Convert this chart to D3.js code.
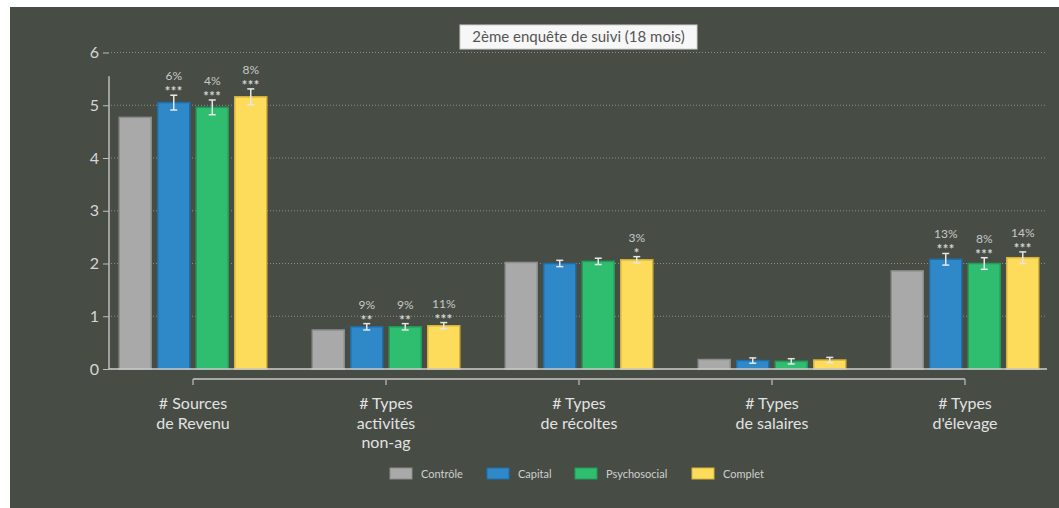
<!DOCTYPE html>
<html>
<head>
<meta charset="utf-8">
<script src="https://cdn.jsdelivr.net/npm/d3@7"></script>
<style>
  html, body { margin: 0; padding: 0; background: #ffffff; }
  svg { display: block; font-family: Lato, "Open Sans", sans-serif; }
</style>
</head>
<body>
<svg id="chart" width="1059" height="508"></svg>
<script>
// ---- data ----
const categories = [
  ["# Sources", "de Revenu"],
  ["# Types", "activités", "non-ag"],
  ["# Types", "de récoltes"],
  ["# Types", "de salaires"],
  ["# Types", "d'élevage"]
];
const seriesNames = ["Contrôle", "Capital", "Psychosocial", "Complet"];
const controle     = [4.77, 0.74, 2.02, 0.18, 1.86];
const capital      = [5.05, 0.80, 2.00, 0.16, 2.08];
const psychosocial = [4.96, 0.80, 2.04, 0.145, 2.00];
const complet      = [5.16, 0.82, 2.07, 0.17, 2.11];
const errControle     = [0, 0, 0, 0, 0];
const errCapital      = [0.14, 0.06, 0.06, 0.05, 0.11];
const errPsychosocial = [0.14, 0.06, 0.06, 0.05, 0.11];
const errComplet      = [0.15, 0.06, 0.06, 0.05, 0.11];
const pctControle     = ["", "", "", "", ""];
const pctCapital      = ["6%", "9%", "", "", "13%"];
const pctPsychosocial = ["4%", "9%", "", "", "8%"];
const pctComplet      = ["8%", "11%", "3%", "", "14%"];
const starsControle     = ["", "", "", "", ""];
const starsCapital      = ["***", "**", "", "", "***"];
const starsPsychosocial = ["***", "**", "", "", "***"];
const starsComplet      = ["***", "***", "*", "", "***"];
const yTicks = [0, 1, 2, 3, 4, 5, 6];
const title = "2ème enquête de suivi (18 mois)";

const colors = ["#a9a9a9", "#2f89c9", "#2fbd6f", "#fddc5b"];
const strokes = ["#8c8c8c", "#1f6eaa", "#239c58", "#d6b33c"];

const values = [controle, capital, psychosocial, complet];
const errs = [errControle, errCapital, errPsychosocial, errComplet];
const pcts = [pctControle, pctCapital, pctPsychosocial, pctComplet];
const stars = [starsControle, starsCapital, starsPsychosocial, starsComplet];

const svg = d3.select("#chart");

// background panel
svg.append("rect").attr("x", 10).attr("y", 7).attr("width", 1049).attr("height", 501).attr("fill", "#474c45");

// scales
const y = d3.scaleLinear().domain([0, 6]).range([369, 52.5]);
const x0 = d3.scaleBand().domain(d3.range(categories.length)).range([96.5, 1061.5]).padding(0);
const x1 = d3.scaleBand().domain(d3.range(seriesNames.length)).range([0, 148.5]).paddingInner(0.143).paddingOuter(0);
const xLeft = 109, xRight = 1046;

// gridlines
svg.append("g").selectAll("line").data(yTicks.filter(d => d > 0)).join("line")
  .attr("x1", xLeft + 2).attr("x2", xRight)
  .attr("y1", d => y(d)).attr("y2", d => y(d))
  .attr("stroke", "#8a8e88").attr("stroke-width", 1).attr("stroke-dasharray", "1,2");

// y axis
const yAxis = d3.axisLeft(y).tickValues(yTicks).tickSize(6).tickPadding(4).tickFormat(d3.format("d"));
const gy = svg.append("g").attr("transform", `translate(${xLeft},0)`).call(yAxis);
gy.select(".domain").remove();
gy.selectAll(".tick line").attr("stroke", "#bdbdbd");
gy.selectAll(".tick text").attr("fill", "#d6d6d6").attr("font-size", 16).attr("font-family", "Lato, sans-serif");
gy.append("line").attr("x1", 0).attr("x2", 0).attr("y1", y(5.55)).attr("y2", y(0))
  .attr("stroke", "#bdbdbd").attr("stroke-width", 1.5);

// bars
const groups = svg.append("g").selectAll("g").data(d3.range(categories.length)).join("g")
  .attr("transform", i => `translate(${x0(i) + x0.bandwidth() / 2 - 74.25},0)`);

groups.each(function(ci) {
  const g = d3.select(this);
  seriesNames.forEach((s, si) => {
    const v = values[si][ci];
    const bx = x1(si);
    const bw = x1.bandwidth();
    g.append("rect")
      .attr("x", bx + 0.5).attr("y", y(v))
      .attr("width", bw - 1).attr("height", y(0) - y(v))
      .attr("fill", colors[si]).attr("stroke", strokes[si]).attr("stroke-width", 1.5);
    const e = errs[si][ci];
    const cx = bx + bw / 2;
    let top = y(v);
    if (e > 0) {
      const y1 = y(v + e), y2 = y(v - e);
      top = y1;
      g.append("line").attr("x1", cx).attr("x2", cx).attr("y1", y1).attr("y2", y2)
        .attr("stroke", "#e6e6e6").attr("stroke-width", 1.5);
      [y1, y2].forEach(yy => g.append("line").attr("x1", cx - 3.5).attr("x2", cx + 3.5)
        .attr("y1", yy).attr("y2", yy).attr("stroke", "#e6e6e6").attr("stroke-width", 1.5));
    }
    if (stars[si][ci]) {
      g.append("text").attr("x", cx).attr("y", top + 1).attr("text-anchor", "middle")
        .attr("fill", "#d4d4d4").attr("font-size", 13).attr("font-weight", "bold")
        .attr("letter-spacing", 0.5).text(stars[si][ci]);
    }
    if (pcts[si][ci]) {
      g.append("text").attr("x", cx).attr("y", top - 15).attr("text-anchor", "middle")
        .attr("fill", "#c8c8c8").attr("font-size", 12).text(pcts[si][ci]);
    }
  });
});

// baseline
svg.append("line").attr("x1", xLeft).attr("x2", xRight + 1).attr("y1", y(0)).attr("y2", y(0))
  .attr("stroke", "#d0d0d0").attr("stroke-width", 1.5);

// bottom category axis (bracket)
const centers = d3.range(categories.length).map(i => x0(i) + x0.bandwidth() / 2);
const gx = svg.append("g");
gx.append("line").attr("x1", centers[0]).attr("x2", centers[centers.length - 1])
  .attr("y1", 379).attr("y2", 379).attr("stroke", "#a8a8a8").attr("stroke-width", 2);
gx.selectAll("line.tk").data(centers).join("line").attr("class", "tk")
  .attr("x1", d => d).attr("x2", d => d).attr("y1", 379).attr("y2", 385)
  .attr("stroke", "#a8a8a8").attr("stroke-width", 1.5);
gx.selectAll("text").data(categories).join("text")
  .attr("text-anchor", "middle").attr("fill", "#e2e2e2").attr("font-size", 16)
  .each(function(lines, i) {
    const t = d3.select(this);
    lines.forEach((ln, li) => {
      t.append("tspan").attr("x", centers[i]).attr("y", 409 + li * 19.5).text(ln);
    });
  });

// legend
const legendX = [390, 487, 575, 692];
const lg = svg.append("g");
seriesNames.forEach((s, si) => {
  lg.append("rect").attr("x", legendX[si]).attr("y", 468).attr("width", 22).attr("height", 11)
    .attr("fill", colors[si]).attr("stroke", strokes[si]).attr("stroke-width", 1);
  lg.append("text").attr("x", legendX[si] + 31).attr("y", 478)
    .attr("fill", "#cfcfcf").attr("font-size", 11).text(s);
});

// title
svg.append("rect").attr("x", 460).attr("y", 25).attr("width", 237).attr("height", 24)
  .attr("fill", "#f7f7f7").attr("stroke", "#cfcfcf");
svg.append("text").attr("x", 578.5).attr("y", 42).attr("text-anchor", "middle")
  .attr("fill", "#555555").attr("font-size", 15).text(title);
</script>
</body>
</html>
